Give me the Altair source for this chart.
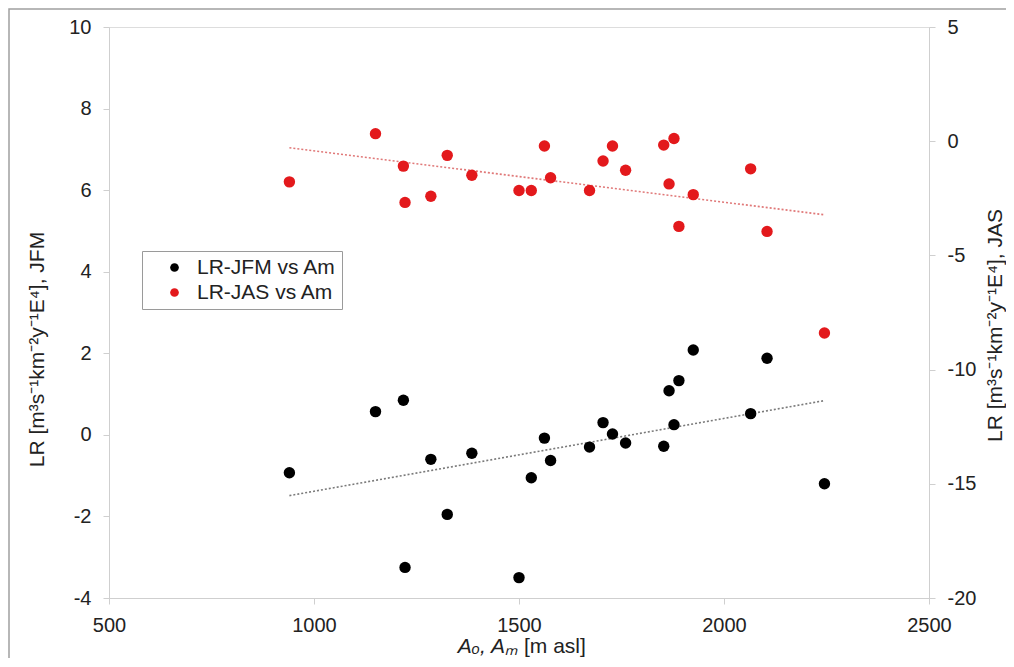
import altair as alt
import pandas as pd

# ---- data ----
elev = [940, 1150, 1218, 1222, 1285, 1325, 1385, 1500, 1530, 1562, 1577, 1672,
        1705, 1728, 1760, 1853, 1866, 1878, 1890, 1925, 2065, 2105, 2245]
lr_jfm = [-0.93, 0.57, 0.85, -3.25, -0.60, -1.95, -0.45, -3.50, -1.05, -0.08, -0.63, -0.30,
          0.30, 0.02, -0.20, -0.28, 1.08, 0.25, 1.33, 2.08, 0.52, 1.88, -1.20]
lr_jas = [-1.78, 0.33, -1.09, -2.68, -2.41, -0.62, -1.49, -2.16, -2.16, -0.21, -1.60, -2.16,
          -0.87, -0.21, -1.27, -0.17, -1.87, 0.12, -3.73, -2.34, -1.21, -3.95, -8.40]
trend_elev = [940, 2245]
trend_jfm = [-1.49, 0.84]
trend_jas = [-0.29, -3.22]
series_names = ["LR-JFM vs Am", "LR-JAS vs Am"]
x_ticks = [500, 1000, 1500, 2000, 2500]
left_ticks = [-4, -2, 0, 2, 4, 6, 8, 10]
right_ticks = [-20, -15, -10, -5, 0, 5]

df_jfm = pd.DataFrame({"elev": elev, "lr": lr_jfm, "series": series_names[0]})
df_jas = pd.DataFrame({"elev": elev, "lr": lr_jas, "series": series_names[1]})
df_tjfm = pd.DataFrame({"elev": trend_elev, "lr": trend_jfm})
df_tjas = pd.DataFrame({"elev": trend_elev, "lr": trend_jas})

FONT = "Liberation Sans"
AX = "#cfcfcf"
TXT = "#222222"
W, H = 820, 571
LBL = "datum.value + ''"

xenc = alt.X("elev:Q",
             scale=alt.Scale(domain=[500, 2500], nice=False, zero=False),
             axis=alt.Axis(values=x_ticks, title=None, grid=False, domainColor=AX,
                           tickColor=AX, tickSize=6, labelFontSize=20, labelFont=FONT,
                           labelColor=TXT, labelPadding=11, labelExpr=LBL,
                           labelFlush=False))

color = alt.Color("series:N",
                  scale=alt.Scale(domain=series_names, range=["#000000", "#e3191c"]),
                  legend=alt.Legend(title=None, orient="none", legendX=33, legendY=224,
                                    strokeColor="#9a9a9a", fillColor="white", padding=6,
                                    symbolType="circle", symbolSize=75, symbolOffset=16,
                                    symbolStrokeWidth=0, labelFontSize=21, labelFont=FONT,
                                    labelColor=TXT, labelOffset=12, rowPadding=3))

yl_scale = alt.Scale(domain=[-4, 10], nice=False, zero=False)
yr_scale = alt.Scale(domain=[-20, 5], nice=False, zero=False)

left_axis = alt.Axis(orient="left", values=left_ticks, grid=False, domainColor=AX,
                     tickColor=AX, tickSize=6, labelFontSize=20, labelFont=FONT,
                     labelColor=TXT, labelPadding=12, labelExpr=LBL, labelFlush=False,
                     title="LR [m³s⁻¹km⁻²y⁻¹E⁴],  JFM", titleFont=FONT, titleFontSize=21,
                     titleFontWeight="normal", titleColor=TXT, titleAngle=270,
                     titleX=-72, titleY=322, titleAlign="center", titleBaseline="middle")
right_axis = alt.Axis(orient="right", values=right_ticks, grid=False, domainColor=AX,
                      tickColor=AX, tickSize=6, labelFontSize=20, labelFont=FONT,
                      labelColor=TXT, labelPadding=12, labelExpr=LBL, labelFlush=False,
                      title="LR [m³s⁻¹km⁻²y⁻¹E⁴], JAS", titleFont=FONT, titleFontSize=21,
                      titleFontWeight="normal", titleColor=TXT, titleAngle=270,
                      titleX=66, titleY=298, titleAlign="center", titleBaseline="middle")

jfm_trend = alt.Chart(df_tjfm).mark_line(strokeDash=[2, 2], strokeWidth=1.6, color="#7a7a7a").encode(
    x=xenc, y=alt.Y("lr:Q", scale=yl_scale, axis=left_axis))
jfm_pts = alt.Chart(df_jfm).mark_point(filled=True, size=130, opacity=1).encode(
    x=xenc, y=alt.Y("lr:Q", scale=yl_scale, axis=left_axis), color=color)

jas_trend = alt.Chart(df_tjas).mark_line(strokeDash=[2, 2], strokeWidth=1.6, color="#e07878").encode(
    x=xenc, y=alt.Y("lr:Q", scale=yr_scale, axis=right_axis))
jas_pts = alt.Chart(df_jas).mark_point(filled=True, size=130, opacity=1).encode(
    x=xenc, y=alt.Y("lr:Q", scale=yr_scale, axis=right_axis), color=color)

# x-axis title: italic symbols + normal unit
tdf = pd.DataFrame({"a": [0]})
xt_it = alt.Chart(tdf).mark_text(text="Aₒ, Aₘ", font=FONT, fontSize=21, fontStyle="italic",
                                 align="right", baseline="alphabetic", color=TXT).encode(
    x=alt.value(409), y=alt.value(626))
xt_rm = alt.Chart(tdf).mark_text(text="[m asl]", font=FONT, fontSize=21,
                                 align="left", baseline="alphabetic", color=TXT).encode(
    x=alt.value(415), y=alt.value(626))

# outer frame
frame = alt.Chart(tdf).mark_rect(fillOpacity=0, stroke="#a0a0a0", strokeWidth=1.5).encode(
    x=alt.value(-100), x2=alt.value(W + 90), y=alt.value(-18), y2=alt.value(H + 70))

left = alt.layer(jfm_trend, jfm_pts)
right = alt.layer(jas_trend, jas_pts)

chart = alt.layer(left, right, xt_it, xt_rm, frame).resolve_scale(y="independent").properties(
    width=W, height=H,
    autosize=alt.AutoSizeParams(type="none"),
    padding={"left": 101, "top": 19, "right": 77, "bottom": 60},
).configure_view(stroke=AX, strokeWidth=1.2).configure(background="white")

chart.save("out.html", embed_options={"renderer": "svg", "actions": False})
